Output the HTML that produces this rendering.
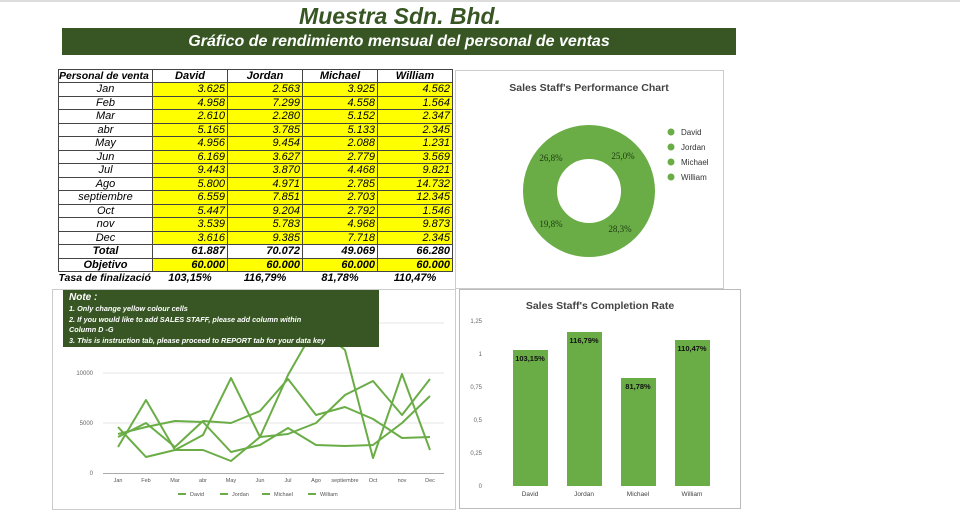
<!DOCTYPE html>
<html><head><meta charset="utf-8"><style>
body{margin:0;width:960px;height:520px;background:#fff;font-family:"Liberation Sans",Arial,sans-serif;position:relative;overflow:hidden}
.abs{position:absolute}
table{border-collapse:collapse;position:absolute;left:58px;top:69px;font-size:11px;font-style:italic;table-layout:fixed;width:394px}
td{border:1px solid #444;height:12.5px;padding:0 2px;line-height:12px;white-space:nowrap;overflow:hidden}
td.y{background:#ffff00;text-align:right}
td.l{text-align:center}
th{font-weight:bold;height:12px;border:1px solid #444;padding:0;font-size:11px;white-space:nowrap;overflow:hidden;line-height:12px}
.b{font-weight:bold}
</style></head><body>
<div class="abs" style="left:0;top:0;width:960px;height:2px;background:#ddd"></div>
<div class="abs" style="left:250px;top:3px;width:300px;text-align:center;font-size:23px;font-weight:bold;font-style:italic;color:#375623">Muestra Sdn. Bhd.</div>
<div class="abs" style="left:62px;top:28px;width:674px;height:27px;background:#375623;color:#fff;font-weight:bold;font-style:italic;font-size:16px;line-height:27px;text-align:center">Gráfico de rendimiento mensual del personal de ventas</div>
<table>
<colgroup><col style="width:94px"><col style="width:75px"><col style="width:75px"><col style="width:75px"><col style="width:75px"></colgroup>
<tr><th style="text-align:left;font-style:italic;font-size:10.5px">Personal de venta</th><th style="font-style:italic">David</th><th style="font-style:italic">Jordan</th><th style="font-style:italic">Michael</th><th style="font-style:italic">William</th></tr>
<tr><td class="l">Jan</td><td class="y">3.625</td><td class="y">2.563</td><td class="y">3.925</td><td class="y">4.562</td></tr>
<tr><td class="l">Feb</td><td class="y">4.958</td><td class="y">7.299</td><td class="y">4.558</td><td class="y">1.564</td></tr>
<tr><td class="l">Mar</td><td class="y">2.610</td><td class="y">2.280</td><td class="y">5.152</td><td class="y">2.347</td></tr>
<tr><td class="l">abr</td><td class="y">5.165</td><td class="y">3.785</td><td class="y">5.133</td><td class="y">2.345</td></tr>
<tr><td class="l">May</td><td class="y">4.956</td><td class="y">9.454</td><td class="y">2.088</td><td class="y">1.231</td></tr>
<tr><td class="l">Jun</td><td class="y">6.169</td><td class="y">3.627</td><td class="y">2.779</td><td class="y">3.569</td></tr>
<tr><td class="l">Jul</td><td class="y">9.443</td><td class="y">3.870</td><td class="y">4.468</td><td class="y">9.821</td></tr>
<tr><td class="l">Ago</td><td class="y">5.800</td><td class="y">4.971</td><td class="y">2.785</td><td class="y">14.732</td></tr>
<tr><td class="l">septiembre</td><td class="y">6.559</td><td class="y">7.851</td><td class="y">2.703</td><td class="y">12.345</td></tr>
<tr><td class="l">Oct</td><td class="y">5.447</td><td class="y">9.204</td><td class="y">2.792</td><td class="y">1.546</td></tr>
<tr><td class="l">nov</td><td class="y">3.539</td><td class="y">5.783</td><td class="y">4.968</td><td class="y">9.873</td></tr>
<tr><td class="l">Dec</td><td class="y">3.616</td><td class="y">9.385</td><td class="y">7.718</td><td class="y">2.345</td></tr>
<tr class="b"><td class="l">Total</td><td style="text-align:right">61.887</td><td style="text-align:right">70.072</td><td style="text-align:right">49.069</td><td style="text-align:right">66.280</td></tr>
<tr class="b"><td class="l">Objetivo</td><td class="y">60.000</td><td class="y">60.000</td><td class="y">60.000</td><td class="y">60.000</td></tr>
<tr class="b"><td style="border:none;padding:0;font-size:10.5px">Tasa de finalizació</td><td style="border:none;text-align:center">103,15%</td><td style="border:none;text-align:center">116,79%</td><td style="border:none;text-align:center">81,78%</td><td style="border:none;text-align:center">110,47%</td></tr>
</table>

<svg class="abs" style="left:0;top:0" width="960" height="520">
<g font-family="Liberation Sans,Arial,sans-serif">
<rect x="455.5" y="70.5" width="268" height="218" fill="none" stroke="#ccc"/>
<text x="589" y="91" text-anchor="middle" font-size="10.5" font-weight="bold" fill="#444">Sales Staff's Performance Chart</text>
<circle cx="589" cy="191" r="49" fill="none" stroke="#6aad46" stroke-width="34"/>
<g font-family="Liberation Serif,serif" font-size="9" fill="#1d3a10">
<text x="551" y="161" text-anchor="middle">26,8%</text><text x="623" y="159" text-anchor="middle">25,0%</text>
<text x="551" y="227" text-anchor="middle">19,8%</text><text x="620" y="232" text-anchor="middle">28,3%</text></g>
<g font-size="8" fill="#333"><circle cx="671" cy="132" r="3.5" fill="#6aad46"/><text x="681" y="135">David</text>
<circle cx="671" cy="147" r="3.5" fill="#6aad46"/><text x="681" y="150">Jordan</text>
<circle cx="671" cy="162" r="3.5" fill="#6aad46"/><text x="681" y="165">Michael</text>
<circle cx="671" cy="177" r="3.5" fill="#6aad46"/><text x="681" y="180">William</text></g>

<rect x="459.5" y="289.5" width="281" height="219" fill="none" stroke="#bbb"/>
<text x="600" y="309" text-anchor="middle" font-size="10.5" font-weight="bold" fill="#444">Sales Staff's Completion Rate</text>
<g font-size="6" fill="#666" text-anchor="end"><text x="482" y="323">1,25</text><text x="482" y="356">1</text><text x="482" y="389">0,75</text><text x="482" y="422">0,5</text><text x="482" y="455">0,25</text><text x="482" y="488">0</text></g>
<g fill="#6aad46"><rect x="513" y="350" width="35" height="136"/><rect x="567" y="332" width="35" height="154"/><rect x="621" y="378" width="35" height="108"/><rect x="675" y="340" width="35" height="146"/></g>
<g font-size="7.5" font-weight="bold" fill="#111" text-anchor="middle"><text x="530" y="361">103,15%</text><text x="584" y="343">116,79%</text><text x="638" y="389">81,78%</text><text x="692" y="351">110,47%</text></g>
<g font-size="6.5" fill="#444" text-anchor="middle"><text x="530" y="496">David</text><text x="584" y="496">Jordan</text><text x="638" y="496">Michael</text><text x="692" y="496">William</text></g>

<rect x="52.5" y="289.5" width="403" height="220" fill="none" stroke="#ccc"/>
<g stroke="#e6e6e6"><line x1="103" y1="373" x2="444" y2="373"/><line x1="103" y1="423" x2="444" y2="423"/><line x1="103" y1="323" x2="444" y2="323"/></g>
<line x1="103" y1="473.5" x2="444" y2="473.5" stroke="#aaa"/>
<g font-size="6" fill="#666" text-anchor="end"><text x="93" y="375">10000</text><text x="93" y="425">5000</text><text x="93" y="475">0</text></g>
<g font-size="5.5" fill="#555" text-anchor="middle">
<text x="118" y="482">Jan</text><text x="146" y="482">Feb</text><text x="175" y="482">Mar</text><text x="203" y="482">abr</text><text x="231" y="482">May</text><text x="260" y="482">Jun</text><text x="288" y="482">Jul</text><text x="316" y="482">Ago</text><text x="345" y="482">septiembre</text><text x="373" y="482">Oct</text><text x="402" y="482">nov</text><text x="430" y="482">Dec</text></g>
<g fill="none" stroke="#6aad46" stroke-width="2" stroke-linejoin="round">
<polyline points="118,437 146,423 175,447 203,421 231,423 260,411 288,379 316,415 345,407 373,419 402,438 430,437"/>
<polyline points="118,447 146,400 175,450 203,435 231,378 260,437 288,434 316,423 345,395 373,381 402,415 430,379"/>
<polyline points="118,434 146,427 175,421 203,422 231,452 260,445 288,428 316,445 345,446 373,445 402,423 430,396"/>
<polyline points="118,427 146,457 175,450 203,450 231,461 260,437 288,375 316,326 345,350 373,458 402,374 430,450"/>
</g>
<g font-size="5.5" fill="#555"><g stroke="#6aad46" stroke-width="2"><line x1="178" y1="494" x2="186" y2="494"/><line x1="220" y1="494" x2="228" y2="494"/><line x1="262" y1="494" x2="270" y2="494"/><line x1="308" y1="494" x2="316" y2="494"/></g>
<text x="190" y="496">David</text><text x="232" y="496">Jordan</text><text x="274" y="496">Michael</text><text x="320" y="496">William</text></g>
</g></svg>
<div class="abs" style="left:63px;top:290px;width:316px;height:57px;background:#375623;color:#fff;font-style:italic;font-weight:bold;font-size:7.3px;line-height:10.5px;padding:1px 0 0 6px;box-sizing:border-box">
<div style="font-size:10px;line-height:13px">Note :</div>
1. Only change yellow colour cells<br>2. If you would like to add SALES STAFF, please add column within<br>Column D -G<br>3. This is instruction tab, please proceed to REPORT tab for your data key</div>
</body></html>
